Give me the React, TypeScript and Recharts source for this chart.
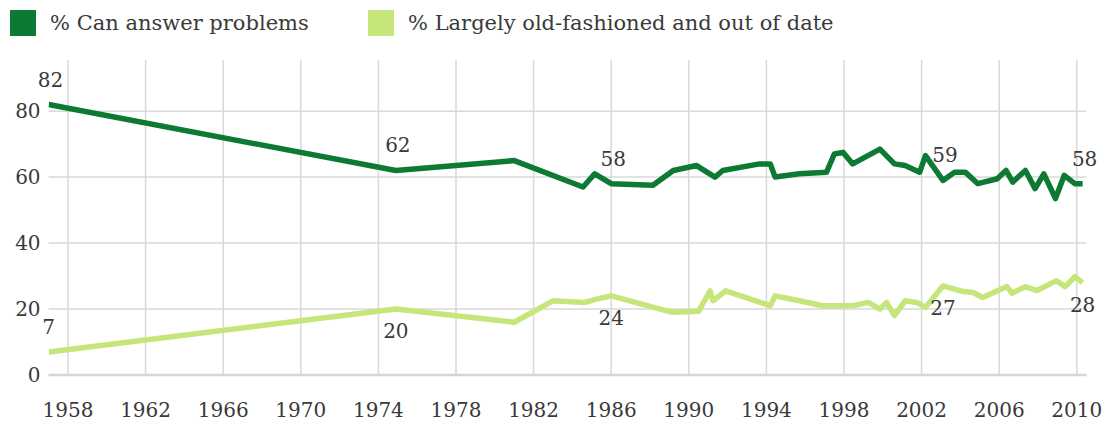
import React from 'react'
import { LineChart, Line, XAxis, YAxis, CartesianGrid, ReferenceLine } from 'recharts'

// Survey dates (fractional years) and readings for each series
const canAnswerYears = [
  1957, 1974.9, 1981, 1984.55, 1985.15, 1986, 1988.15, 1989.2, 1990.4, 1991.35,
  1991.75, 1993.65, 1994.2, 1994.45, 1995.7, 1997.1, 1997.5, 1997.95, 1998.45, 1999.85,
  2000.6, 2001.15, 2001.9, 2002.2, 2003.1, 2003.7, 2004.25, 2004.9, 2005.9, 2006.35,
  2006.7, 2007.35, 2007.85, 2008.3, 2008.9, 2009.35, 2009.9, 2010.3,
]
const canAnswer = [
  82, 62, 65, 57, 61, 58, 57.5, 62, 63.5, 60,
  62, 64, 64, 60, 61, 61.5, 67, 67.5, 64, 68.5,
  64, 63.5, 61.5, 66.5, 59, 61.5, 61.5, 58, 59.5, 62,
  58.5, 62, 56.5, 61, 53.5, 60.5, 58, 58,
]

const outdatedYears = [
  1957, 1974.9, 1981, 1983, 1984.65, 1985.25, 1986, 1989.15, 1990.5, 1991.1,
  1991.25, 1991.9, 1994.2, 1994.45, 1995.7, 1996.9, 1998.45, 1999.25, 1999.85, 2000.2,
  2000.6, 2001.15, 2001.75, 2002.2, 2003.1, 2004.15, 2004.65, 2005.15, 2006.4, 2006.65,
  2007.35, 2007.95, 2008.95, 2009.4, 2009.9, 2010.3,
]
const outdated = [
  7, 20, 16, 22.5, 22, 23, 24, 19, 19.3, 25.5,
  22.5, 25.5, 21, 24, 22.5, 21, 21, 22, 20, 22,
  18, 22.5, 22, 20.5, 27, 25.3, 25, 23.5, 26.8, 24.8,
  26.8, 25.6, 28.6, 26.8, 29.8, 28,
]

// points that carry a value label
const labelledYears = [1957, 1974.9, 1986, 2003.1, 2010.3]

const xTicks = [1958, 1962, 1966, 1970, 1974, 1978, 1982, 1986, 1990, 1994, 1998, 2002, 2006, 2010]
const yTicks = [0, 20, 40, 60, 80]

const DARK = '#0c7a33'
const LIGHT = '#c4e67b'
const TEXT = '#3a3a3a'
const GRID = '#d9d9d9'
const FONT = '"DejaVu Serif", Georgia, serif'

type Row = { year: number; canAnswer: number | null; outdated: number | null }

const rows: Row[] = Array.from(new Set([...canAnswerYears, ...outdatedYears]))
  .sort((a, b) => a - b)
  .map(year => {
    const i = canAnswerYears.indexOf(year)
    const j = outdatedYears.indexOf(year)
    return {
      year,
      canAnswer: i >= 0 ? canAnswer[i] : null,
      outdated: j >= 0 ? outdated[j] : null,
    }
  })

const makeLabel = (side: 'above' | 'below') => (props: any) => {
  const { x, y, value, index } = props
  if (value == null || x == null || y == null) return null
  const row = rows[index]
  if (!row || !labelledYears.includes(row.year)) return null
  // the first light value sits above its line, the rest sit under it
  const up = side === 'above' || index === 0
  return (
    <text
      key={`lbl-${side}-${index}`}
      x={x + (side === 'above' ? 2 : 0)}
      y={up ? y - 25 : y + 22}
      textAnchor="middle"
      dominantBaseline="central"
      fill={TEXT}
      fontSize={20}
      fontFamily={FONT}
    >
      {Math.round(value)}
    </text>
  )
}

function LegendItem({ color, text, left }: { color: string; text: string; left: number }) {
  return (
    <div style={{ position: 'absolute', left, top: 10, display: 'flex', alignItems: 'center' }}>
      <div style={{ width: 26, height: 26, background: color }} />
      <span style={{ marginLeft: 14, fontSize: 21, color: TEXT, fontFamily: FONT, whiteSpace: 'nowrap' }}>
        {text}
      </span>
    </div>
  )
}

export default function App() {
  return (
    <div style={{ position: 'absolute', left: 0, top: 0, width: 1108, height: 425, background: '#fff' }}>
      <LegendItem color={DARK} text="% Can answer problems" left={10} />
      <LegendItem color={LIGHT} text="% Largely old-fashioned and out of date" left={368} />
      <LineChart width={1108} height={425} data={rows} margin={{ top: 60, right: 21.5, bottom: 0, left: 0 }}>
        <CartesianGrid stroke={GRID} strokeWidth={1.5} vertical={false} horizontalValues={yTicks} />
        {xTicks.map(t => (
          <ReferenceLine key={t} x={t} stroke={GRID} strokeWidth={1.5} />
        ))}
        <XAxis
          dataKey="year"
          type="number"
          domain={[1957, 2010.5]}
          ticks={xTicks}
          interval={0}
          allowDataOverflow
          height={50}
          tickLine={false}
          tickSize={0}
          tickMargin={28}
          axisLine={{ stroke: '#d6d6d6', strokeWidth: 2.5 }}
          tick={{ fill: TEXT, fontSize: 20, fontFamily: FONT }}
        />
        <YAxis
          type="number"
          domain={[0, 95.5]}
          ticks={yTicks}
          interval={0}
          width={48.6}
          axisLine={false}
          tickLine={false}
          tickSize={0}
          tickMargin={8}
          tick={{ fill: TEXT, fontSize: 20, fontFamily: FONT }}
        />
        <Line
          dataKey="outdated"
          stroke={LIGHT}
          strokeWidth={5.5}
          strokeLinejoin="round"
          dot={false}
          activeDot={false}
          connectNulls
          isAnimationActive={false}
          label={makeLabel('below')}
        />
        <Line
          dataKey="canAnswer"
          stroke={DARK}
          strokeWidth={5.5}
          strokeLinejoin="round"
          dot={false}
          activeDot={false}
          connectNulls
          isAnimationActive={false}
          label={makeLabel('above')}
        />
      </LineChart>
    </div>
  )
}
